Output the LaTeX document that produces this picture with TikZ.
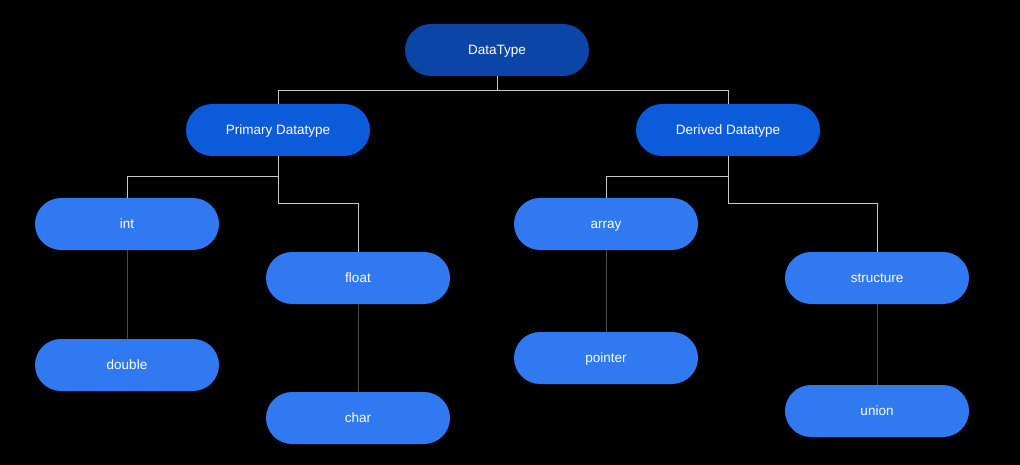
\documentclass[tikz,border=0pt]{standalone}
\usepackage{fontspec}
\setmainfont{Liberation Sans}
\usepackage{tikz}
\usetikzlibrary{arrows.meta,positioning}

\definecolor{rootblue}{HTML}{0B46A6}
\definecolor{midblue}{HTML}{0B5BDB}
\definecolor{leafblue}{HTML}{3079F0}
\definecolor{linegray}{HTML}{C8C8C8}
\definecolor{darkline}{HTML}{4A4A4A}

\begin{document}
\begin{tikzpicture}[
        x=1pt, y=-1pt,
        every node/.style={text=white, font=\fontsize{13.5}{15}\selectfont, align=center,
            minimum width=184pt, minimum height=52pt, rounded corners=26pt, inner sep=0pt,
            text height=2ex, text depth=0.25ex},
        rootbox/.style={fill=rootblue},
        midbox/.style={fill=midblue},
        leafbox/.style={fill=leafblue},
        link/.style={draw=linegray, line width=0.9pt},
        leaflink/.style={draw=darkline, line width=0.9pt}
    ]

    % Background
    \fill[black] (0,0) rectangle (1020,465);

    % Root Node
    \node[rootbox] (datatype) at (497,50) {DataType};

    % Second Level Nodes
    \node[midbox] (primary) at (278,130) {Primary Datatype};
    \node[midbox] (derived) at (728,130) {Derived Datatype};

    % Primary Children
    \node[leafbox] (int) at (127,224) {int};
    \node[leafbox] (float) at (358,278) {float};
    \node[leafbox] (double) at (127,365) {double};
    \node[leafbox] (char) at (358,418) {char};

    % Derived Children
    \node[leafbox] (array) at (606,224) {array};
    \node[leafbox] (structure) at (877,278) {structure};
    \node[leafbox] (pointer) at (606,358) {pointer};
    \node[leafbox] (union) at (877,411) {union};

    % Connectors
    \draw[link] (datatype.south) -- ++(0,14) -| (primary.north);
    \draw[link] (datatype.south) -- ++(0,14) -| (derived.north);
    \draw[link] (primary.south) -- ++(0,20) -| (int.north);
    \draw[link] (primary.south) -- ++(0,47) -| (float.north);
    \draw[link] (derived.south) -- ++(0,20) -| (array.north);
    \draw[link] (derived.south) -- ++(0,47) -| (structure.north);
    \draw[leaflink] (int.south) -- (double.north);
    \draw[leaflink] (float.south) -- (char.north);
    \draw[leaflink] (array.south) -- (pointer.north);
    \draw[leaflink] (structure.south) -- (union.north);

\end{tikzpicture}
\end{document}
